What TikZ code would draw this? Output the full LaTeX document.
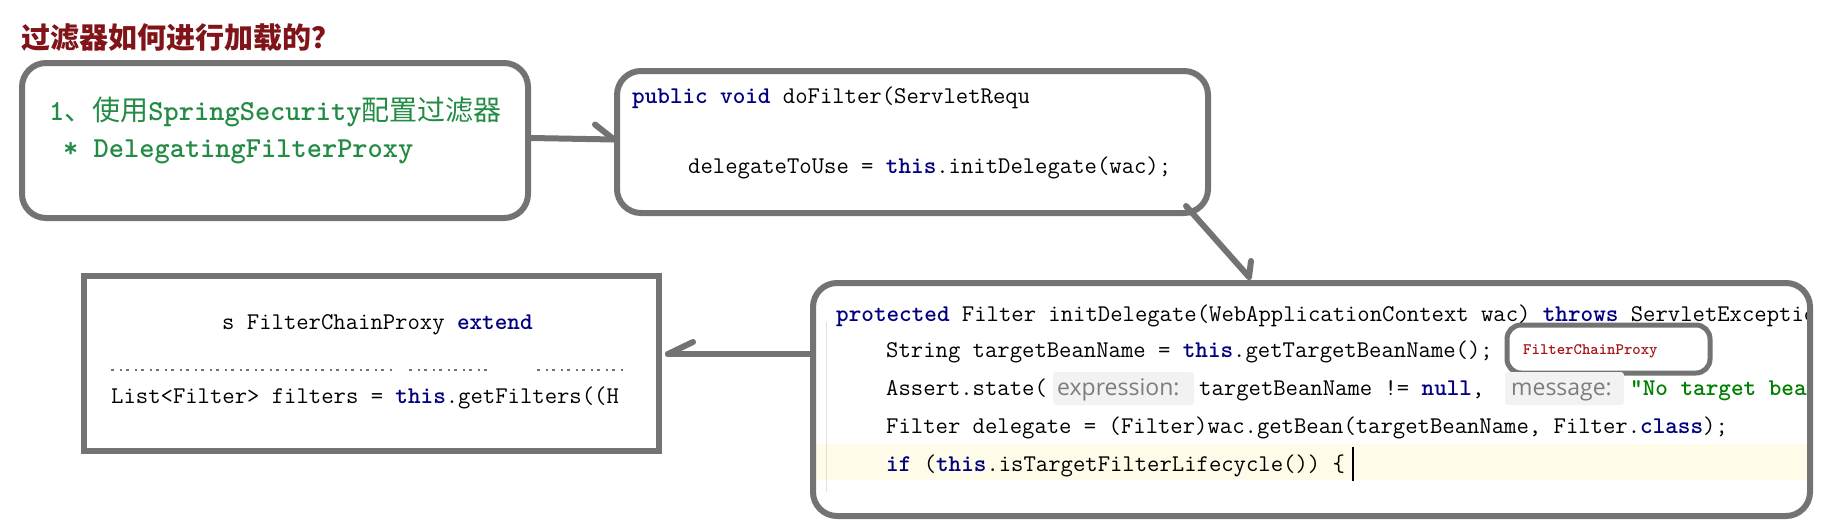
\documentclass[tikz,border=0pt]{standalone}
\usepackage{fontspec}
\newfontfamily\cjkf{Noto Sans CJK SC}
\newfontfamily\hintf{Open Sans}
\usetikzlibrary{calc}
\definecolor{boxgray}{RGB}{115,115,115}
\definecolor{kwblue}{RGB}{0,0,128}
\definecolor{titlered}{RGB}{128,20,24}
\definecolor{notegreen}{RGB}{34,139,68}
\definecolor{strgreen}{RGB}{0,128,0}
\definecolor{beanred}{RGB}{165,20,20}
\definecolor{hintgray}{RGB}{125,125,125}
\definecolor{hintbg}{RGB}{242,242,242}
\definecolor{lineyellow}{RGB}{254,251,232}
\newcommand\kwd[1]{{\bfseries\color{kwblue}#1}}
\begin{document}
\begin{tikzpicture}[x=1pt,y=-1pt,
  box/.style={draw=boxgray, line width=6pt, rounded corners=24pt, inner sep=0pt},
  sqbox/.style={draw=boxgray, line width=6pt, inner sep=0pt},
  conn/.style={draw=boxgray, line width=6pt, line cap=round, line join=round},
  code/.style={font=\fontsize{24}{24}\ttfamily\selectfont, inner sep=0pt, anchor=base west, text=black},
  note/.style={font=\fontsize{29}{29}\ttfamily\bfseries\selectfont, inner sep=0pt, anchor=base west, text=notegreen},
  hint/.style={font=\fontsize{23}{23}\hintf\selectfont, inner sep=0pt, anchor=base west, text=hintgray},
  hintbox/.style={fill=hintbg, rounded corners=3pt},
  frag/.style={draw=black!55, line width=1.2pt, dash pattern=on 3pt off 6pt on 2pt off 4pt}]
\useasboundingbox (0,0) rectangle (1829,525);
\fill[white] (0,0) rectangle (1829,525);

% title
\node[anchor=base west, inner sep=0pt, font=\cjkf\bfseries\fontsize{29}{29}\selectfont, text=titlered] (title) at (21,48) {过滤器如何进行加载的？};

% boxes
\fill[lineyellow] (813,444) rectangle (1810,480);
\node[box, minimum width=506pt, minimum height=155pt] (b1) at (275,140.5) {};
\node[box, minimum width=591pt, minimum height=142pt] (b2) at (912.5,142) {};
\node[box, minimum width=997pt, minimum height=233pt] (b3) at (1311.5,399.5) {};
\node[sqbox, minimum width=575pt, minimum height=175pt] (b4) at (371.5,363.5) {};
\node[draw=boxgray, line width=5pt, rounded corners=14pt, minimum width=203pt, minimum height=48pt, inner sep=0pt] (ib) at (1608.5,349) {};

% box 1 text
\node[note] (n11) at (49,120) {1{\cjkf\mdseries\fontsize{28}{28}\selectfont 、使用}SpringSecurity{\cjkf\mdseries\fontsize{28}{28}\selectfont 配置过滤器}};
\node[note] (n12) at (63,157) {* DelegatingFilterProxy};

% box 2 text
\begin{scope}
\clip (620,75) rectangle (1028,200);
\node[code] (n21) at (632,103) {\kwd{public} \kwd{void} doFilter(ServletRequest};
\end{scope}
\node[code] (n22) at (688,173) {delegateToUse = \kwd{this}.initDelegate(wac);};

% box 3 text
\draw[black!12, line width=1pt] (826,322) -- (826,492);
\begin{scope}
\clip (813,283) rectangle (1806,516);
\node[code] (n31) at (836,321) {\kwd{protected} Filter initDelegate(WebApplicationContext wac) \kwd{throws} ServletException \{};
\node[code] (n32) at (886,357) {String targetBeanName = \kwd{this}.getTargetBeanName();};
\fill[hintbox] (1053,372) rectangle (1194,405);
\fill[hintbox] (1505,372) rectangle (1624,405);
\node[code] (n33a) at (886,395) {Assert.state(};
\node[hint] (n33b) at (1057,395) {expression:};
\node[code] (n33c) at (1199,395) {targetBeanName != \kwd{null},};
\node[hint] (n33d) at (1511,395) {message:};
\node[code, text=strgreen, font=\fontsize{24}{24}\ttfamily\bfseries\selectfont] (n33e) at (1630,395) {"No target bean name};
\node[code] (n34) at (886,433) {Filter delegate = (Filter)wac.getBean(targetBeanName, Filter.\kwd{class});};
\node[code] (n35) at (886,471) {\kwd{if} (\kwd{this}.isTargetFilterLifecycle()) \{};
\end{scope}
\draw[black, line width=2pt] (1353,447) -- (1353,481);
\node[code, text=beanred, font=\fontsize{16}{16}\ttfamily\bfseries\selectfont] (bean) at (1523,354) {FilterChainProxy};

% box 4 text
\node[code] (n41) at (222,329) {s FilterChainProxy \kwd{extend}};
\draw[frag] (111,370) -- (394,370);
\draw[frag] (409,370) -- (491,370);
\draw[frag] (537,370) -- (625,370);
\node[code] (n42) at (111,403) {List<Filter> filters = \kwd{this}.getFilters((H};

% connectors
\coordinate (a1s) at ([yshift=2.5pt]b1.east);
\coordinate (a1t) at ([yshift=2.5pt]b2.west);
\draw[conn] (a1s) -- (a1t);
\draw[conn] (a1t) -- ++(-19,-15);

\coordinate (a2s) at ($(b2.south east)+(-25,-10)$);
\coordinate (a2t) at ($(b3.north west)+(439,-3)$);
\draw[conn] (a2s) -- (a2t);
\draw[conn] (a2t) -- ++(2,-16);

\coordinate (a3s) at ($(b3.north west)+(0,74)$);
\coordinate (a3t) at ($(b4.north east)+(6,81)$);
\draw[conn] (a3s) -- (a3t);
\draw[conn] (a3t) -- ++(25,-12);
\end{tikzpicture}
\end{document}
